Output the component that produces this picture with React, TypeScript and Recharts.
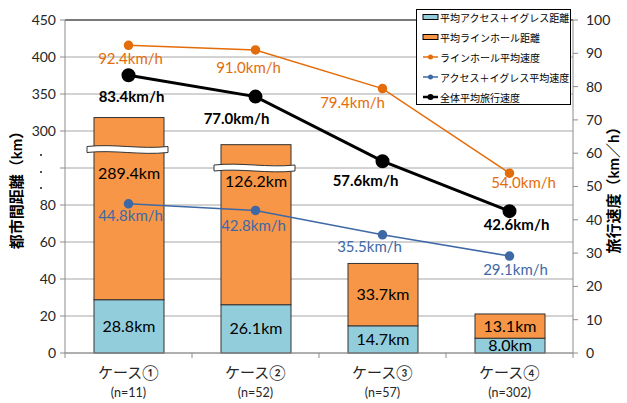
import { ComposedChart, Bar, Line, XAxis, YAxis, CartesianGrid, Legend, LabelList, ReferenceLine } from 'recharts';

const FONT = 'Lato, "Noto Sans CJK JP", sans-serif';

const cases = ['ケース①', 'ケース②', 'ケース③', 'ケース④'];
const sampleSizes = ['(n=11)', '(n=52)', '(n=57)', '(n=302)'];
const accessKm = [28.8, 26.1, 14.7, 8.0];
const lineHaulKm = [289.4, 126.2, 33.7, 13.1];
const lineHaulSpeed = [92.4, 91.0, 79.4, 54.0];
const accessSpeed = [44.8, 42.8, 35.5, 29.1];
const totalSpeed = [83.4, 77.0, 57.6, 42.6];
const leftTickLabels = ['0', '20', '40', '60', '80', '', '300', '350', '400', '450'];
const rightTicks = [0, 10, 20, 30, 40, 50, 60, 70, 80, 90, 100];

const C = {
  access: '#92CDDC',
  lineHaul: '#F79646',
  orange: '#E46C0A',
  blue: '#3E68A6',
  black: '#000000',
  grid: '#A6A6A6',
  axis: '#8C8C8C',
  text: '#262626',
};

// broken axis: km -> slot units (one slot per grid line)
const AXIS_ANCHORS: [number, number][] = [[0, 0], [80, 4], [120, 5.55], [300, 6], [450, 9]];
function toSlot(km: number) {
  for (let i = 1; i < AXIS_ANCHORS.length; i++) {
    const [k0, s0] = AXIS_ANCHORS[i - 1];
    const [k1, s1] = AXIS_ANCHORS[i];
    if (km <= k1) return s0 + ((km - k0) / (k1 - k0)) * (s1 - s0);
  }
  return 9;
}

// where the wavy break sits on each bar (slot units), and label drop below it
const BREAK_AT = [5.5, 5.0, null, null];
const BREAK_LABEL_DY = [24, 13];

// label offsets from each point
const SPEED_LABEL_OFFSET = {
  lineHaul: [[2, 13], [-7, 18], [-30, 14], [14, 10]],
  access: [[2, 12], [-2, 15], [-13, 12], [6, 14]],
  total: [[3, 21], [-19, 22], [-17, 20], [7, 14]],
};

const data = cases.map((name, i) => {
  const a = toSlot(accessKm[i]);
  const t = toSlot(accessKm[i] + lineHaulKm[i]);
  return {
    name,
    accessV: a,
    lineV: t - a,
    lineHaulSpeed: lineHaulSpeed[i],
    accessSpeed: accessSpeed[i],
    totalSpeed: totalSpeed[i],
  };
});

function BrokenBar(props: any) {
  const { x, y, width, height, fill, index } = props;
  const brk = BREAK_AT[index];
  const d = data[index];
  let band = null;
  if (brk != null && d) {
    const perSlot = height / d.lineV;
    const yc = y + height - (brk - d.accessV) * perSlot;
    const x0 = x - 7;
    const x1 = x + width + 4;
    const w = x1 - x0;
    band = (
      <path
        d={`M${x0},${yc - 3} C${x0 + w * 0.33},${yc - 6} ${x0 + w * 0.66},${yc} ${x1},${yc - 3}
            L${x1},${yc + 3} C${x0 + w * 0.66},${yc + 6} ${x0 + w * 0.33},${yc} ${x0},${yc + 3} Z`}
        fill="#fff"
        stroke="#333"
        strokeWidth={1}
      />
    );
  }
  return (
    <g>
      <rect x={x} y={y} width={width} height={height} fill={fill} stroke="#333" strokeWidth={1} />
      {band}
    </g>
  );
}

function AccessBar(props: any) {
  const { x, y, width, height, fill } = props;
  return <rect x={x} y={y} width={width} height={height} fill={fill} stroke="#333" strokeWidth={1} />;
}

const accessLabel = (p: any) => (
  <text x={p.x + p.width / 2} y={p.y + p.height / 2} dy="0.35em" textAnchor="middle"
    fontSize={16} fill="#000" fontFamily={FONT}>
    {accessKm[p.index].toFixed(1)}km
  </text>
);

const lineHaulLabel = (p: any) => {
  const i = p.index;
  let cy = p.y + p.height / 2;
  const brk = BREAK_AT[i];
  if (brk != null) {
    const perSlot = p.height / data[i].lineV;
    cy = p.y + p.height - (brk - data[i].accessV) * perSlot + BREAK_LABEL_DY[i];
  }
  return (
    <text x={p.x + p.width / 2} y={cy} dy="0.35em" textAnchor="middle"
      fontSize={16} fill="#000" fontFamily={FONT}>
      {lineHaulKm[i].toFixed(1)}km
    </text>
  );
};

const speedLabel = (offsets: number[][], color: string, bold = false) => (p: any) => {
  const [dx, dy] = offsets[p.index];
  return (
    <text x={p.x + dx} y={p.y + dy} dy="0.35em" textAnchor="middle" fontSize={15}
      fontWeight={bold ? 700 : 400} fill={color} fontFamily={FONT}>
      {Number(p.value).toFixed(1)}km/h
    </text>
  );
};

// vertical axis title, centred on the plot height
const axisTitle = (text: string, cx: number) => (p: any) => {
  const vb = p.viewBox;
  const cy = vb.y + vb.height / 2;
  return (
    <text transform={`translate(${cx},${cy}) rotate(-90)`} dy="0.35em" textAnchor="middle"
      fontSize={15} fontWeight={700} fill="#000" fontFamily={FONT}>
      {text}
    </text>
  );
};

const LeftTick = (p: any) => {
  const i = p.index;
  if (leftTickLabels[i] === '') {
    return (
      <g fill={C.text}>
        <circle cx={p.x - 15} cy={p.y - 13} r={1.1} />
        <circle cx={p.x - 15} cy={p.y + 4} r={1.1} />
        <circle cx={p.x - 15} cy={p.y + 20} r={1.1} />
      </g>
    );
  }
  return (
    <text x={p.x} y={p.y} dy="0.35em" textAnchor="end" fontSize={14} fill={C.text} fontFamily={FONT}>
      {leftTickLabels[i]}
    </text>
  );
};

const HALF_BAND = (573 - 65) / cases.length / 2;

const CaseTick = (p: any) => {
  const i = p.index;
  return (
    <g>
      <line x1={p.x - HALF_BAND} y1={p.y} x2={p.x - HALF_BAND} y2={p.y + 5} stroke={C.axis} />
      {i === cases.length - 1 && (
        <line x1={p.x + HALF_BAND} y1={p.y} x2={p.x + HALF_BAND} y2={p.y + 5} stroke={C.axis} />
      )}
      <text x={p.x} y={p.y + 20} dy="0.35em" textAnchor="middle" fontSize={15} fill={C.text} fontFamily={FONT}>
        {p.payload.value}
      </text>
      <text x={p.x} y={p.y + 40} dy="0.35em" textAnchor="middle" fontSize={12.5} fill={C.text} fontFamily={FONT}>
        {sampleSizes[i]}
      </text>
    </g>
  );
};

const LEGEND_ITEMS = [
  { label: '平均アクセス＋イグレス距離', kind: 'rect', color: C.access },
  { label: '平均ラインホール距離', kind: 'rect', color: C.lineHaul },
  { label: 'ラインホール平均速度', kind: 'line', color: C.orange },
  { label: 'アクセス＋イグレス平均速度', kind: 'line', color: C.blue },
  { label: '全体平均旅行速度', kind: 'line', color: C.black },
];

const renderLegend = () => (
  <div style={{ border: '1px solid #000', background: '#fff', width: 155, height: 96, boxSizing: 'border-box', fontFamily: FONT }}>
    <div style={{ position: 'relative', top: -3 }}>
      {LEGEND_ITEMS.map((it, i) => (
        <div key={i} style={{ display: 'flex', alignItems: 'center', height: 20, fontSize: 10, color: '#000', whiteSpace: 'nowrap' }}>
          <svg width={22} height={10} style={{ flex: 'none' }}>
            {it.kind === 'rect' ? (
              <rect x={6} y={2.5} width={15} height={5} fill={it.color} stroke="#000" strokeWidth={1} />
            ) : (
              <g>
                <line x1={6} y1={5} x2={21} y2={5} stroke={it.color} strokeWidth={it.color === C.black ? 2.5 : 1.5} />
                <circle cx={13.5} cy={5} r={it.color === C.black ? 3 : 2.5} fill={it.color} />
              </g>
            )}
          </svg>
          <span style={{ marginLeft: 1 }}>{it.label}</span>
        </div>
      ))}
    </div>
  </div>
);

export default function App() {
  return (
    <div style={{ position: 'absolute', left: 0, top: 0, width: 627, height: 403, background: '#fff', fontFamily: FONT }}>
      <ComposedChart width={627} height={403} data={data} margin={{ top: 20, right: 0, bottom: 0, left: 0 }}>
        <CartesianGrid yAxisId="left" vertical={false} stroke={C.grid} strokeWidth={1} />
        <XAxis dataKey="name" height={50} stroke={C.axis} tickLine={false} tickSize={0} tickMargin={0} tick={<CaseTick />} interval={0} />
        <YAxis yAxisId="left" type="number" domain={[0, 9]} ticks={[0, 1, 2, 3, 4, 5, 6, 7, 8, 9]}
          width={65} stroke={C.axis} tickSize={5} tickMargin={4} tick={<LeftTick />} interval={0}
          label={{ content: axisTitle('都市間距離（km）', 17) }} />
        <YAxis yAxisId="right" orientation="right" type="number" domain={[0, 100]} ticks={rightTicks}
          width={54} stroke={C.axis} tickSize={5} tickMargin={8} interval={0}
          tick={{ fontSize: 14, fill: C.text, fontFamily: FONT }}
          label={{ content: axisTitle('旅行速度（km／h）', 614) }} />
        <ReferenceLine yAxisId="left" y={9} stroke="#222" strokeWidth={1} />
        <Bar yAxisId="left" dataKey="accessV" stackId="km" fill={C.access} barSize={70} shape={<AccessBar />} isAnimationActive={false}>
          <LabelList dataKey="accessV" content={accessLabel} />
        </Bar>
        <Bar yAxisId="left" dataKey="lineV" stackId="km" fill={C.lineHaul} barSize={70} shape={<BrokenBar />} isAnimationActive={false}>
          <LabelList dataKey="lineV" content={lineHaulLabel} />
        </Bar>
        <Line yAxisId="right" dataKey="lineHaulSpeed" stroke={C.orange} strokeWidth={1.5}
          dot={{ r: 4, fill: C.orange, stroke: C.orange }} isAnimationActive={false}>
          <LabelList dataKey="lineHaulSpeed" content={speedLabel(SPEED_LABEL_OFFSET.lineHaul, C.orange)} />
        </Line>
        <Line yAxisId="right" dataKey="accessSpeed" stroke={C.blue} strokeWidth={1.5}
          dot={{ r: 4, fill: C.blue, stroke: C.blue }} isAnimationActive={false}>
          <LabelList dataKey="accessSpeed" content={speedLabel(SPEED_LABEL_OFFSET.access, C.blue)} />
        </Line>
        <Line yAxisId="right" dataKey="totalSpeed" stroke={C.black} strokeWidth={3}
          dot={{ r: 5.5, fill: C.black, stroke: C.black }} isAnimationActive={false}>
          <LabelList dataKey="totalSpeed" content={speedLabel(SPEED_LABEL_OFFSET.total, C.black, true)} />
        </Line>
        <Legend layout="vertical" align="center" verticalAlign="middle" content={renderLegend}
          wrapperStyle={{ position: 'absolute', left: 416, top: 9, width: 155, height: 96 }} />
      </ComposedChart>
    </div>
  );
}
